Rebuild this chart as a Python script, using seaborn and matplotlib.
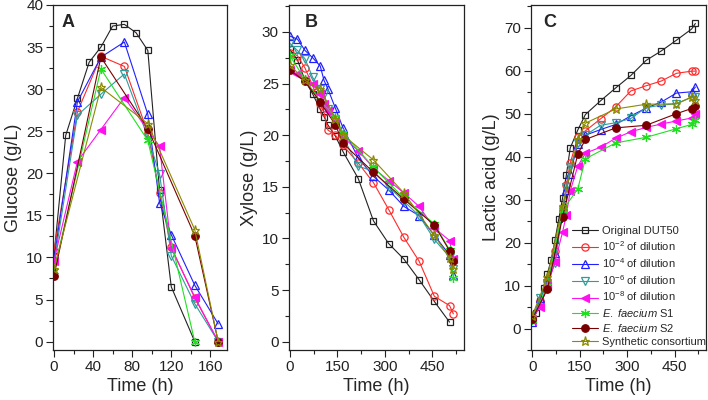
import numpy as np
import pandas as pd
import matplotlib
matplotlib.use("Agg")
import matplotlib.pyplot as plt
from matplotlib.ticker import MultipleLocator
import seaborn as sns

# ---------------- data ----------------
series_names = ["Original DUT50", "10$^{-2}$ of dilution", "10$^{-4}$ of dilution",
                "10$^{-6}$ of dilution", "10$^{-8}$ of dilution",
                "$\\mathit{E.\\ faecium}$ S1", "$\\mathit{E.\\ faecium}$ S2",
                "Synthetic consortium"]

# Panel A: glucose
glc_t_black = [0, 12, 24, 36, 48, 60, 72, 84, 96, 108, 120, 144]
glc_v_black = [10.2, 24.5, 28.9, 33.2, 35.0, 37.5, 37.7, 36.7, 34.6, 18.0, 6.5, 0.0]
glc_t_red = [0, 24, 48, 72, 96, 108, 120, 144, 168]
glc_v_red = [10.8, 27.3, 33.9, 32.7, 24.8, 17.7, 11.2, 5.2, 0.0]
glc_t_blue = [0, 24, 48, 72, 96, 108, 120, 144, 168]
glc_v_blue = [9.8, 28.5, 33.8, 35.6, 27.0, 16.5, 12.7, 6.7, 2.1]
glc_t_cyan = [0, 24, 48, 72, 96, 108, 120, 144, 168]
glc_v_cyan = [9.3, 26.9, 29.4, 31.8, 24.3, 19.9, 10.2, 4.5, 0.0]
glc_t_mag = [0, 24, 48, 72, 108, 120, 144, 168]
glc_v_mag = [9.6, 21.4, 25.2, 29.0, 23.2, 11.1, 5.3, 0.0]
glc_t_green = [0, 48, 96, 144]
glc_v_green = [8.4, 32.4, 23.9, 0.0]
glc_t_brown = [0, 48, 96, 144, 168]
glc_v_brown = [7.8, 33.8, 25.3, 12.6, 0.0]
glc_t_olive = [0, 48, 96, 144, 168]
glc_v_olive = [8.6, 30.2, 25.9, 13.3, 0.0]

# Panel B: xylose
xyl_t_black = [0, 24, 48, 72, 96, 108, 120, 144, 168, 216, 264, 312, 360, 408, 456, 504]
xyl_v_black = [28.3, 27.3, 25.3, 24.0, 22.5, 21.8, 21.0, 19.9, 18.4, 15.8, 11.7, 9.5, 8.0, 6.0, 3.9, 1.9]
xyl_t_full = [0, 24, 48, 72, 96, 108, 120, 144, 168, 216, 264, 312, 360, 408, 456, 504, 516]
xyl_v_red = [28.0, 27.7, 26.5, 24.8, 23.0, 22.2, 20.5, 20.0, 19.0, 17.3, 15.4, 12.8, 10.1, 7.8, 4.4, 3.5, 2.7]
xyl_v_blue = [29.6, 29.3, 28.2, 27.5, 26.7, 25.3, 24.5, 22.6, 20.7, 17.8, 16.0, 14.7, 13.1, 12.2, 10.3, 8.4, 6.5]
xyl_v_cyan = [28.9, 28.2, 27.4, 25.6, 24.5, 24.0, 22.5, 21.5, 19.8, 17.0, 16.5, 15.0, 13.6, 12.2, 9.9, 8.2, 7.0]
xyl_v_mag = [26.3, 25.9, 25.3, 25.0, 24.0, 23.0, 22.3, 21.3, 19.8, 18.5, 16.8, 15.6, 14.4, 13.1, 11.0, 9.8, 8.0]
xyl_t_sparse = [0, 48, 96, 144, 168, 264, 360, 456, 504, 516]
xyl_v_green = [27.7, 25.4, 23.3, 21.8, 20.2, 16.9, 13.9, 11.4, 8.9, 6.2]
xyl_v_brown = [26.3, 25.2, 23.2, 21.0, 19.2, 16.4, 13.8, 11.3, 8.8, 7.8]
xyl_v_olive = [26.8, 25.3, 24.5, 21.6, 20.0, 17.6, 14.4, 10.3, 8.1, 7.0]

# Panel C: lactic acid
lac_t_black = [0, 12, 24, 36, 48, 60, 72, 84, 96, 108, 120, 144, 168, 216, 264, 312, 360, 408, 456, 504, 516]
lac_v_black = [2.5, 3.5, 6.5, 9.5, 12.8, 16.0, 20.6, 25.5, 30.4, 35.8, 42.0, 46.2, 49.8, 53.0, 56.0, 58.9, 62.4, 64.6, 67.1, 69.7, 71.0]
lac_t_full = [0, 24, 48, 72, 96, 108, 120, 144, 168, 216, 264, 312, 360, 408, 456, 504, 516]
lac_v_red = [2.5, 6.5, 11.0, 18.0, 27.5, 33.5, 38.5, 44.5, 46.0, 48.8, 51.6, 55.3, 56.5, 57.6, 59.4, 59.9, 59.9]
lac_v_blue = [1.5, 7.0, 10.5, 17.5, 27.0, 32.3, 36.0, 43.0, 45.0, 46.3, 47.5, 49.5, 51.3, 52.7, 54.8, 55.1, 56.2]
lac_v_cyan = [2.0, 7.2, 10.5, 15.3, 27.5, 33.0, 37.5, 43.2, 45.0, 47.3, 47.9, 48.9, 51.4, 52.0, 52.3, 53.8, 54.0]
lac_v_mag = [2.0, 5.0, 10.0, 15.5, 22.5, 26.5, 32.0, 37.8, 40.8, 42.2, 44.3, 45.8, 46.8, 47.6, 48.3, 49.0, 50.0]
lac_t_sparse = [0, 48, 96, 144, 168, 264, 360, 456, 504, 516]
lac_v_green = [2.0, 10.0, 27.5, 32.5, 39.5, 43.2, 44.5, 46.5, 47.5, 48.5]
lac_v_brown = [2.2, 9.2, 26.0, 40.6, 44.0, 46.7, 47.3, 50.0, 51.2, 51.7]
lac_v_olive = [3.0, 12.0, 28.5, 44.0, 47.8, 51.1, 52.2, 52.3, 53.9, 53.2]

# ---------------- styling ----------------
sns.set_style("ticks")
plt.rcParams["font.family"] = ["Liberation Sans", "DejaVu Sans"]
plt.rcParams["mathtext.fontset"] = "custom"
plt.rcParams["mathtext.rm"] = "Liberation Sans"
plt.rcParams["mathtext.it"] = "Liberation Sans:italic"
plt.rcParams["mathtext.bf"] = "Liberation Sans:bold"

colors = ["#222222", "#FF2A2A", "#2020FF", "#2E9C9C", "#FF10F0", "#20E020", "#7A0000", "#8A8A00"]
markers = ["s", "o", "^", "v", "<", (6, 2, 0), "o", "*"]
filled = [False, False, False, False, True, True, True, False]
msizes = [4.8, 5.2, 5.6, 5.6, 5.6, 6.5, 5.4, 6.8]

panelA = [(glc_t_black, glc_v_black), (glc_t_red, glc_v_red), (glc_t_blue, glc_v_blue),
          (glc_t_cyan, glc_v_cyan), (glc_t_mag, glc_v_mag), (glc_t_green, glc_v_green),
          (glc_t_brown, glc_v_brown), (glc_t_olive, glc_v_olive)]
panelB = [(xyl_t_black, xyl_v_black), (xyl_t_full, xyl_v_red), (xyl_t_full, xyl_v_blue),
          (xyl_t_full, xyl_v_cyan), (xyl_t_full, xyl_v_mag), (xyl_t_sparse, xyl_v_green),
          (xyl_t_sparse, xyl_v_brown), (xyl_t_sparse, xyl_v_olive)]
panelC = [(lac_t_black, lac_v_black), (lac_t_full, lac_v_red), (lac_t_full, lac_v_blue),
          (lac_t_full, lac_v_cyan), (lac_t_full, lac_v_mag), (lac_t_sparse, lac_v_green),
          (lac_t_sparse, lac_v_brown), (lac_t_sparse, lac_v_olive)]

W, H = 708, 400
fig = plt.figure(figsize=(W / 100, H / 100), dpi=100)

def px_axes(l, r, t=5, b=350):
    return fig.add_axes([l / W, 1 - b / H, (r - l) / W, (b - t) / H])

axA = px_axes(53, 227)
axB = px_axes(288.5, 463.5)
axC = px_axes(531, 705.5)


def draw(ax, panel):
    for i, (t, v) in enumerate(panel):
        df = pd.DataFrame({"t": t, "v": v})
        mfc = colors[i] if filled[i] else "none"
        sns.lineplot(data=df, x="t", y="v", ax=ax, color=colors[i], lw=0.8,
                     marker=markers[i], markersize=msizes[i], markerfacecolor=mfc,
                     markeredgecolor=colors[i], markeredgewidth=0.9,
                     sort=False, estimator=None, label=series_names[i], legend=False)


draw(axA, panelA)
draw(axB, panelB)
draw(axC, panelC)

def style(ax, xlim, ylim, xmaj, xmin, ymaj, ymin, ylabel, letter, lx):
    ax.set_xlim(*xlim)
    ax.set_ylim(*ylim)
    ax.xaxis.set_major_locator(MultipleLocator(xmaj))
    ax.xaxis.set_minor_locator(MultipleLocator(xmin))
    ax.yaxis.set_major_locator(MultipleLocator(ymaj))
    ax.yaxis.set_minor_locator(MultipleLocator(ymin))
    ax.tick_params(which="both", direction="out", top=False, right=False,
                   labelsize=11, width=0.8, colors="#222222")
    ax.tick_params(axis="both", which="major", length=5, pad=2)
    ax.tick_params(axis="both", which="minor", length=3)
    for s in ax.spines.values():
        s.set_linewidth(0.9)
        s.set_color("#222222")
        s.set_visible(True)
    ax.set_xlabel("Time (h)", fontsize=13, labelpad=3)
    ax.set_ylabel(ylabel, fontsize=13, labelpad=3)
    ax.text(lx, 0.975, letter, transform=ax.transAxes, fontsize=13,
            fontweight="bold", va="top", ha="left")

style(axA, (-1, 177), (-1, 40), 40, 20, 5, 2.5, "Glucose (g/L)", "A", 0.05)
style(axB, (-4, 548), (-0.8, 32.6), 150, 75, 5, 2.5, "Xylose (g/L)", "B", 0.09)
style(axC, (-4, 548), (-5, 75.3), 150, 75, 10, 5, "Lactic acid (g/L)", "C", 0.07)

handles, labels = axC.get_legend_handles_labels()
leg = axC.legend(handles, labels, loc="upper left", bbox_to_anchor=(0.235, 0.36),
                 frameon=False, fontsize=8, handlelength=2.3, handletextpad=0.4,
                 labelspacing=0.28, borderpad=0, borderaxespad=0)

fig.savefig("out.png", dpi=100)
